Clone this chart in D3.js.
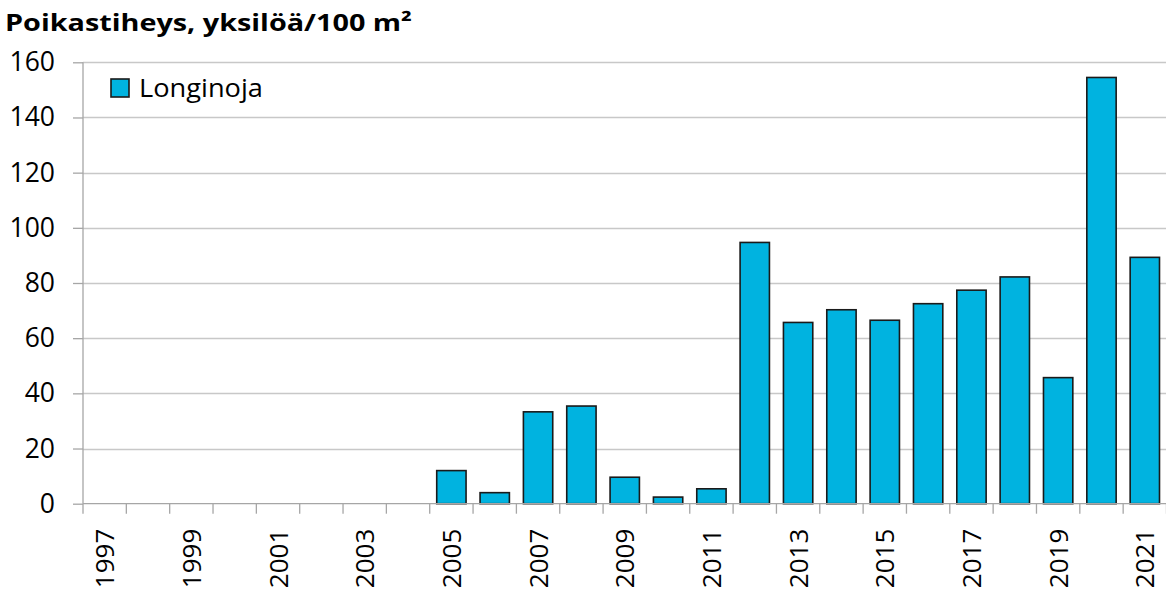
<!DOCTYPE html>
<html>
<head>
<meta charset="utf-8">
<script src="https://cdn.jsdelivr.net/npm/d3@7"></script>
<style>
  html, body { margin: 0; padding: 0; background: #fff; }
  svg { display: block; }
  text { font-family: "Open Sans", "Noto Sans", sans-serif; fill: #000; }
</style>
</head>
<body>
<svg id="chart" width="1166" height="590"></svg>
<script>
const years = ["1997","1998","1999","2000","2001","2002","2003","2004","2005","2006","2007","2008","2009","2010","2011","2012","2013","2014","2015","2016","2017","2018","2019","2020","2021"];
const values = [null,null,null,null,null,null,null,null,12.0,4.0,33.3,35.4,9.6,2.4,5.4,94.7,65.7,70.3,66.5,72.5,77.4,82.2,45.7,154.5,89.3];
const xTickLabels = ["1997","1999","2001","2003","2005","2007","2009","2011","2013","2015","2017","2019","2021"];
const yTicks = [0,20,40,60,80,100,120,140,160];
const seriesName = "Longinoja";
const titleText = "Poikastiheys, yksilöä/100 m²";

const svg = d3.select("#chart");
const mLeft = 83, mRight = 1166.5, mTop = 62.3, mBottom = 503.7;

const x = d3.scaleBand().domain(years).range([mLeft, mRight]).paddingInner(0.323).paddingOuter(0.1615);
const y = d3.scaleLinear().domain([0, 160]).range([mBottom, mTop]);

// gridlines
svg.append("g").selectAll("line").data(yTicks.filter(d => d > 0)).join("line")
  .attr("x1", mLeft).attr("x2", mRight)
  .attr("y1", d => Math.round(y(d)) + 0.5).attr("y2", d => Math.round(y(d)) + 0.5)
  .attr("stroke", "#c8c8c8").attr("stroke-width", 1.3);

// bars
const data = years.map((yr, i) => ({ yr, v: values[i] })).filter(d => d.v != null);
svg.append("g").selectAll("rect").data(data).join("rect")
  .attr("x", d => x(d.yr))
  .attr("y", d => y(d.v))
  .attr("width", x.bandwidth())
  .attr("height", d => y(0) - y(d.v))
  .attr("fill", "#00B3E0")
  .attr("stroke", "#1a1a1a")
  .attr("stroke-width", 1.6);

// y axis
const yAxis = svg.append("g").attr("transform", `translate(${mLeft},0)`)
  .call(d3.axisLeft(y).tickValues(yTicks).tickSize(10).tickPadding(18).tickFormat(d3.format("d")));
yAxis.select(".domain").attr("stroke", "#a6a6a6").attr("stroke-width", 1.3).attr("d", `M0,${mTop}V${mBottom}`);
yAxis.selectAll(".tick line").attr("stroke", "#a6a6a6").attr("stroke-width", 1.3);
yAxis.selectAll(".tick text").attr("font-size", 26.5).attr("fill", "#000")
  .style("font-family", '"Open Sans", sans-serif');

// x axis (category boundaries ticks)
const step = x.step();
const xAxisG = svg.append("g").attr("transform", `translate(0,${mBottom})`);
xAxisG.append("line").attr("x1", mLeft).attr("x2", mRight).attr("y1", 0).attr("y2", 0)
  .attr("stroke", "#a6a6a6").attr("stroke-width", 1.3);
const bounds = d3.range(years.length + 1).map(i => mLeft + i * step);
xAxisG.selectAll("line.tk").data(bounds).join("line").attr("class", "tk")
  .attr("x1", d => d).attr("x2", d => d).attr("y1", 0).attr("y2", 10)
  .attr("stroke", "#a6a6a6").attr("stroke-width", 1.3);
xAxisG.selectAll("text.lbl").data(xTickLabels).join("text").attr("class", "lbl")
  .attr("transform", d => `translate(${x(d) + x.bandwidth() / 2 + 9.5},${25}) rotate(-90)`)
  .attr("text-anchor", "end")
  .attr("font-size", 26)
  .text(d => d);

// legend
const lg = svg.append("g").attr("transform", "translate(111,79)");
lg.append("rect").attr("x", 0).attr("y", 0).attr("width", 18).attr("height", 18)
  .attr("fill", "#00B3E0").attr("stroke", "#1a1a1a").attr("stroke-width", 1.6);
lg.append("text").attr("x", 28).attr("y", 18).attr("font-size", 26)
  .attr("textLength", 124).attr("lengthAdjust", "spacingAndGlyphs").text(seriesName);

// title
const t = svg.append("text").attr("x", 5).attr("y", 31).attr("font-size", 24)
  .attr("font-weight", "bold").text(titleText);
t.attr("textLength", 407).attr("lengthAdjust", "spacingAndGlyphs");
</script>
</body>
</html>
